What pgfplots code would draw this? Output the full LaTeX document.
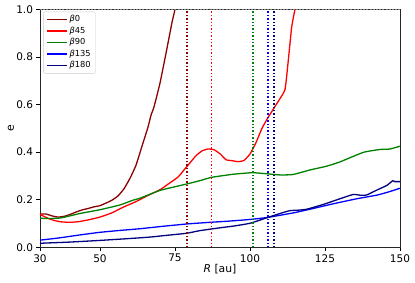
\documentclass[border=0pt]{standalone}
\usepackage{fontspec}
\setmainfont{DejaVu Sans}
\usepackage{pgfplots}
\pgfplotsset{compat=1.18}
\definecolor{mplnavy}{RGB}{0,0,128}
\definecolor{mpldarkred}{RGB}{139,0,0}
\definecolor{mplgreen}{RGB}{0,128,0}
\definecolor{mplred}{RGB}{255,0,0}
\definecolor{mplblue}{RGB}{0,0,255}
\begin{document}
\begin{tikzpicture}
\path[use as bounding box] (-40pt,-34.7pt) rectangle (375pt,247.3pt);
\begin{axis}[
  at={(0,0)}, anchor=south west,
  scale only axis, width=360pt, height=238pt,
  xmin=30, xmax=150, ymin=0, ymax=1,
  xtick={30,50,75,100,125,150},
  ytick={0,0.2,0.4,0.6,0.8,1.0},
  yticklabels={0.0,0.2,0.4,0.6,0.8,1.0},
  /pgf/number format/assume math mode=true,
  tick label style={font=\fontsize{10.5}{12}\selectfont},
  tick align=outside, tick pos=left,
  major tick length=3.5pt,
  every tick/.style={black, line width=0.8pt},
  axis line style={black!85, line width=0.8pt},
  xlabel={\textit{R} [au]}, ylabel={e},
  label style={font=\fontsize{10.8}{12}\selectfont},
  xlabel style={at={(axis description cs:0.5,-0.0924)}, anchor=center},
  ylabel style={at={(axis description cs:-0.0806,0.5)}, anchor=center, rotate=0},
  legend cell align=left,
  legend style={at={(axis description cs:0.009,0.99)}, anchor=north west,
    font=\fontsize{8.3}{9}\selectfont, draw=black!20, rounded corners=2pt,
    fill=white, row sep=0pt,
    nodes={text height=6.3pt, text depth=1.6pt, inner sep=1.8pt}},
  legend image code/.code={\draw[#1, line width=1.35pt] (0pt,0pt) -- (20pt,0pt);},
  every axis plot/.append style={line width=1.3pt},
]
\addplot[color=mpldarkred, smooth, tension=0.3] coordinates {
(30,0.140)(32,0.140)(34,0.132)(36,0.127)(38,0.130)(40,0.138)(42,0.148)(44,0.157)
(46,0.163)(48,0.170)(50,0.175)(52,0.186)(54,0.198)(56,0.216)(58,0.246)(60,0.290)
(62,0.345)(64,0.425)(66,0.505)(67,0.555)(68,0.590)(70,0.690)(72,0.815)(74,0.945)
(75,1.0)(76,1.08)};
\addlegendentry{{\itshape β}0}
\addplot[color=mplred, smooth, tension=0.3] coordinates {
(30,0.138)(31,0.132)(33,0.120)(35,0.112)(37,0.107)(40,0.105)(43,0.108)(46,0.115)
(50,0.127)(54,0.145)(58,0.170)(62,0.192)(66,0.218)(70,0.242)(73,0.268)(76,0.295)
(78,0.325)(80,0.355)(82,0.385)(84,0.405)(86,0.413)(88,0.410)(90,0.393)(92,0.368)
(94,0.364)(96,0.360)(98,0.365)(100,0.392)(102,0.440)(104,0.500)(106,0.545)(108,0.585)
(110,0.625)(111.7,0.665)(112.8,0.790)(113.9,0.926)(115,1.0)(116,1.06)};
\addlegendentry{{\itshape β}45}
\addplot[color=mplgreen, smooth, tension=0.3] coordinates {
(30,0.122)(33,0.121)(36.7,0.123)(40,0.132)(43.3,0.142)(50,0.158)(56.7,0.178)(61,0.198)
(63.3,0.206)(70,0.239)(78.9,0.266)(83.3,0.280)(87.2,0.294)(94.4,0.307)(100,0.313)
(101.7,0.313)(105.6,0.309)(110,0.304)(114.4,0.306)(120,0.325)(125.6,0.341)(130,0.359)
(137.8,0.399)(143.3,0.411)(146.7,0.413)(150,0.425)};
\addlegendentry{{\itshape β}90}
\addplot[color=mplblue, smooth, tension=0.3] coordinates {
(30,0.030)(36.7,0.040)(43.3,0.052)(50,0.063)(56.7,0.071)(63.3,0.078)(70,0.087)
(78.9,0.098)(86.7,0.105)(93,0.110)(100,0.117)(105.6,0.125)(111.1,0.137)(115,0.146)
(120,0.160)(127.8,0.183)(135.6,0.204)(142.2,0.219)(146,0.232)(150,0.248)};
\addlegendentry{{\itshape β}135}
\addplot[color=mplnavy, smooth, tension=0.3] coordinates {
(30,0.017)(40,0.022)(50,0.029)(60,0.037)(66.7,0.043)(72,0.050)(78.9,0.059)(83.3,0.070)
(90,0.082)(94.4,0.089)(100,0.101)(105.6,0.124)(110,0.142)(113.3,0.154)(116,0.156)
(118.9,0.160)(124.4,0.180)(130,0.204)(134.4,0.222)(136.7,0.219)(138.9,0.220)
(142.2,0.240)(145.6,0.260)(147.6,0.280)(148.3,0.276)(150,0.276)};
\addlegendentry{{\itshape β}180}
\addplot[color=mpldarkred, line width=1.3pt, dash pattern=on 1.3pt off 2.1pt, forget plot] coordinates {(79,0)(79,1)};
\addplot[color=mplred, line width=1.3pt, dash pattern=on 1.3pt off 2.1pt, forget plot] coordinates {(87.2,0)(87.2,1)};
\addplot[color=mplgreen, line width=1.3pt, dash pattern=on 1.3pt off 2.1pt, forget plot] coordinates {(101,0)(101,1)};
\addplot[color=mplblue, line width=1.3pt, dash pattern=on 1.3pt off 2.1pt, forget plot] coordinates {(106,0)(106,1)};
\addplot[color=mplnavy, line width=1.3pt, dash pattern=on 1.3pt off 2.1pt, forget plot] coordinates {(108,0)(108,1)};
\addplot[color=gray, line width=1.2pt, dash pattern=on 2pt off 1.2pt, forget plot] coordinates {(30,1)(150,1)};
\end{axis}
\end{tikzpicture}
\end{document}
